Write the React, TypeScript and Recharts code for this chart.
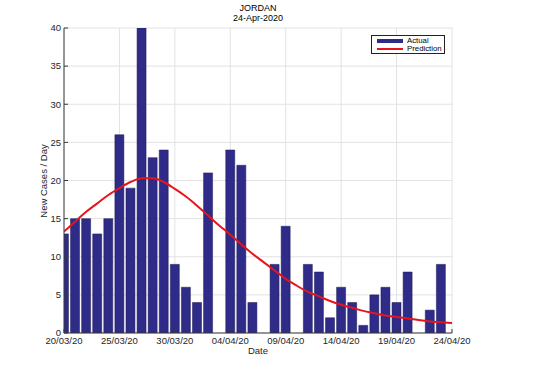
import { Bar, CartesianGrid, ComposedChart, Line, XAxis, YAxis } from "recharts"

// days since 20/03/20
const days = [
  0, 1, 2, 3, 4, 5, 6, 7, 8, 9, 10, 11, 12, 13, 14, 15, 16, 17, 18, 19, 20, 21,
  22, 23, 24, 25, 26, 27, 28, 29, 30, 31, 32, 33, 34, 35,
]

const actual = [
  13, 15, 15, 13, 15, 26, 19, 40, 23, 24, 9, 6, 4, 21, 0, 24, 22, 4, 0, 9, 14, 0,
  9, 8, 2, 6, 4, 1, 5, 6, 4, 8, 0, 3, 9, 0,
]

const prediction = [
  13.3, 14.6, 15.9, 17.0, 18.1, 19.0, 19.8, 20.3, 20.3, 19.8, 18.9, 17.9, 16.7,
  15.4, 14.1, 12.9, 11.6, 10.4, 9.3, 8.2, 7.1, 6.2, 5.4, 4.8, 4.2, 3.7, 3.3, 2.9,
  2.6, 2.3, 2.1, 1.9, 1.7, 1.5, 1.4, 1.3,
]

const xTicks = [0, 5, 10, 15, 20, 25, 30, 35]
const xTickLabels = [
  "20/03/20",
  "25/03/20",
  "30/03/20",
  "04/04/20",
  "09/04/20",
  "14/04/20",
  "19/04/20",
  "24/04/20",
]
const yTicks = [0, 5, 10, 15, 20, 25, 30, 35, 40]

const FONT = '"Liberation Sans", Arial, Helvetica, sans-serif'
const AXIS = "#3a3a3a"
const TEXT = "#262626"
const BAR = "#2F2B88"
const RED = "#E8141B"
const MARGIN = 3

const data = days.map((d, i) => ({
  day: d,
  actual: actual[i],
  prediction: prediction[i],
}))

function YTick({ x, y, payload }: any) {
  return (
    <g>
      <line x1={x + MARGIN} x2={x + MARGIN + 4} y1={y} y2={y} stroke={AXIS} />
      <text
        x={x}
        y={y}
        dy="0.355em"
        textAnchor="end"
        fontSize={9.5}
        fontFamily={FONT}
        fill={TEXT}
      >
        {payload.value}
      </text>
    </g>
  )
}

function XTick({ x, y, payload }: any) {
  const label = xTickLabels[xTicks.indexOf(payload.value)] ?? ""
  return (
    <g>
      <line x1={x} x2={x} y1={y - 4} y2={y - 8} stroke={AXIS} />
      <text
        x={x}
        y={y}
        dy="0.71em"
        textAnchor="middle"
        fontSize={9.5}
        fontFamily={FONT}
        fill={TEXT}
      >
        {label}
      </text>
    </g>
  )
}

export default function App() {
  return (
    <div
      style={{
        position: "absolute",
        left: 0,
        top: 0,
        width: 546,
        height: 375,
        background: "#fff",
        fontFamily: FONT,
      }}
    >
      <ComposedChart
        width={546}
        height={375}
        data={data}
        margin={{ top: 28, right: 94, bottom: 0, left: 0 }}
      >
        <CartesianGrid stroke="#e2e2e2" />
        <XAxis
          dataKey="day"
          type="number"
          domain={[0, 35]}
          ticks={xTicks}
          allowDataOverflow
          height={42}
          tickSize={0}
          tickMargin={4}
          tickLine={false}
          axisLine={{ stroke: AXIS }}
          tick={<XTick />}
          interval={0}
        />
        <XAxis
          xAxisId="top"
          orientation="top"
          type="number"
          domain={[0, 35]}
          ticks={xTicks}
          allowDataOverflow
          height={0}
          mirror
          tick={false}
          tickSize={4}
          tickLine={{ stroke: AXIS }}
          axisLine={{ stroke: AXIS }}
        />
        <YAxis
          type="number"
          domain={[0, 40]}
          ticks={yTicks}
          allowDataOverflow
          width={64}
          tickSize={0}
          tickMargin={MARGIN}
          tickLine={false}
          axisLine={{ stroke: AXIS }}
          tick={<YTick />}
          interval={0}
        />
        <YAxis
          yAxisId="right"
          orientation="right"
          type="number"
          domain={[0, 40]}
          ticks={yTicks}
          allowDataOverflow
          width={0}
          mirror
          tick={false}
          tickSize={4}
          tickLine={{ stroke: AXIS }}
          axisLine={{ stroke: AXIS }}
        />
        <Bar
          dataKey="actual"
          barSize={9}
          fill={BAR}
          stroke="#1c1957"
          strokeWidth={0.5}
          isAnimationActive={false}
        />
        <Line
          dataKey="prediction"
          type="monotone"
          stroke={RED}
          strokeWidth={2}
          dot={false}
          activeDot={false}
          isAnimationActive={false}
        />
      </ComposedChart>

      <svg
        width={546}
        height={375}
        style={{ position: "absolute", left: 0, top: 0, pointerEvents: "none" }}
      >
        <text x={258} y={10.5} textAnchor="middle" fontSize={9} fontFamily={FONT} fill="#000">
          JORDAN
        </text>
        <text x={258} y={20.5} textAnchor="middle" fontSize={9} fontFamily={FONT} fill="#000">
          24-Apr-2020
        </text>
        <text x={258} y={354} textAnchor="middle" fontSize={9.5} fontFamily={FONT} fill={TEXT}>
          Date
        </text>
        <text
          x={0}
          y={0}
          transform="translate(47 181) rotate(-90)"
          textAnchor="middle"
          fontSize={9.5}
          fontFamily={FONT}
          fill={TEXT}
        >
          New Cases / Day
        </text>
      </svg>

      <div
        style={{
          position: "absolute",
          left: 371,
          top: 35,
          width: 72,
          height: 17,
          border: "1px solid #222",
          background: "#fff",
          fontSize: 7.8,
          lineHeight: "8px",
          color: "#000",
        }}
      >
        <div style={{ display: "flex", alignItems: "center", height: 8, marginTop: 1 }}>
          <span
            style={{
              display: "inline-block",
              width: 26,
              height: 4,
              marginLeft: 5,
              marginRight: 4,
              background: BAR,
            }}
          />
          Actual
        </div>
        <div style={{ display: "flex", alignItems: "center", height: 8 }}>
          <span
            style={{
              display: "inline-block",
              width: 26,
              height: 2,
              marginLeft: 5,
              marginRight: 4,
              background: RED,
            }}
          />
          Prediction
        </div>
      </div>
    </div>
  )
}
